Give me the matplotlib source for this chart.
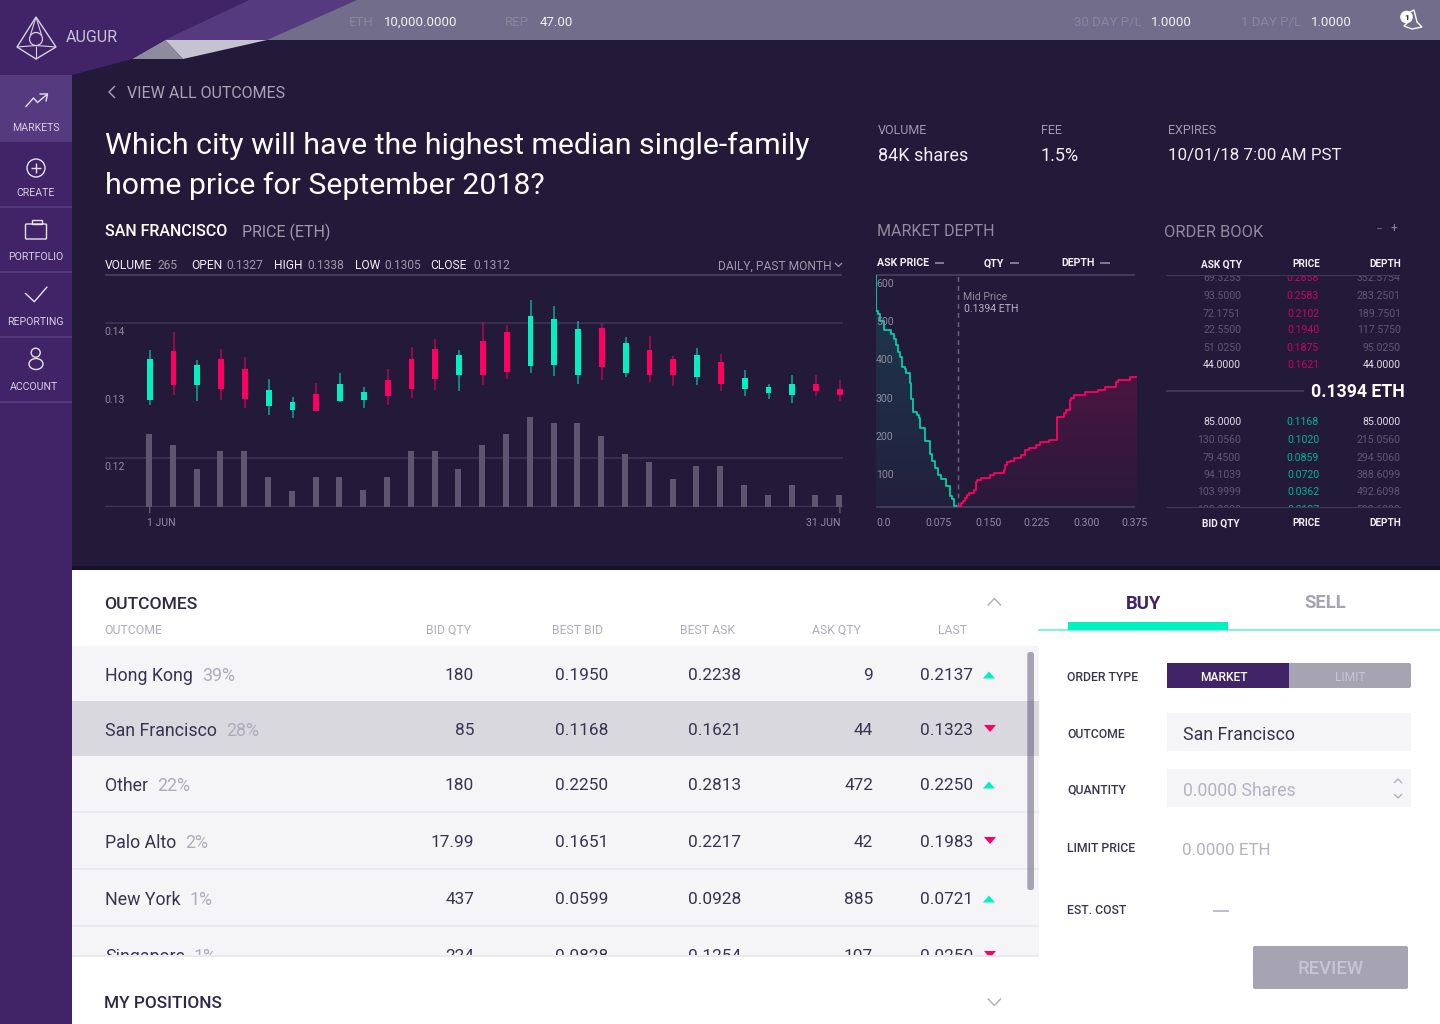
"""Augur market page: candlesticks, market depth, order book and outcomes table."""
import numpy as np
import matplotlib

matplotlib.use("Agg")
import matplotlib.pyplot as plt
from matplotlib.patches import Circle, Ellipse, FancyBboxPatch, Polygon, Rectangle

plt.rcParams["font.family"] = ["Roboto", "DejaVu Sans"]

W, H = 1440, 1024

BG = "#231a3a"
PURPLE = "#412468"
GREEN = "#00f0c2"
RED = "#ff0062"
RULE = "#433a5a"
MUTED = "#8f8c9f"
INK = "#3a3350"

# Candles, one per day of June
PRICE_HIGH = [.13595, .13867, .13457, .13615, .13496, .13170, .12904, .13116, .13264, .13052,
              .13319, .13644, .13763, .13605, .14015, .13975, .14336, .14257, .14030, .14000,
              .13793, .13807, .13516, .13635, .13546, .13309, .13096, .13230, .13230, .13156]
PRICE_LOW = [.12780, .12928, .12840, .12859, .12741, .12632, .12588, .12696, .12835, .12741,
             .12785, .12889, .13007, .12993, .13077, .13170, .13254, .13210, .13101, .13156,
             .13195, .13121, .13062, .13077, .12988, .12914, .12869, .12815, .12914, .12840]
PRICE_OPEN = [.12864, .13580, .13077, .13472, .13323, .12765, .12706, .12948, .12849, .12854,
              .13156, .13472, .13620, .13225, .13728, .13867, .13358, .13373, .13225, .13921,
              .13264, .13605, .13462, .13195, .13422, .13017, .12958, .12928, .13096, .13022]
PRICE_CLOSE = [.13467, .13077, .13383, .13017, .12869, .13007, .12830, .12701, .13096, .12978,
               .12914, .13017, .13165, .13526, .13225, .13269, .14099, .14059, .13911, .13343,
               .13704, .13235, .13235, .13526, .13091, .13190, .13052, .13101, .12998, .12928]
VOLUME = [72.7, 61.7, 37.7, 55.7, 55.7, 29.7, 15.7, 29.7, 29.7, 16.7,
          29.7, 55.7, 55.7, 37.7, 61.7, 72.7, 89.7, 83.7, 83.7, 70.7,
          52.7, 44.7, 27.7, 40.7, 40.7, 21.7, 11.7, 21.7, 11.7, 11.7]
PRICE_TICKS = [0.14, 0.13, 0.12]
PRICE_GRID = [0.14, 0.12]

# Market depth steps
BID_PRICE = [0.0, 0.0, .0034, .0058, .0110, .0211, .0259, .0288, .0317, .0346, .0374, .0413, .0432,
             .0485, .0509, .0533, .0586, .0614, .0634, .0701, .0778, .0806, .0850, .0893, .0931,
             .1013, .1066, .1099, .1118, .1186]
BID_DEPTH = [604, 511, 503, 485, 461, 450, 437, 422, 404, 391, 365, 358, 349,
             322, 281, 246, 239, 230, 205, 170, 137, 118, 100, 83, 73,
             55, 29, 19, 2, 2]
ASK_PRICE = [.1186, .1219, .1248, .1277, .1306, .1334, .1406, .1435, .1459, .1517, .1646, .1704,
             .1838, .1862, .1891, .1930, .1982, .2083, .2141, .2203, .2299, .2357, .2482, .2606,
             .2707, .2726, .2789, .2808, .2851, .3010, .3192, .3288, .3446, .3475, .3658, .3754]
ASK_DEPTH = [2, 9, 16, 22, 30, 36, 43, 65, 70, 76, 82, 87,
             96, 109, 116, 120, 128, 134, 148, 154, 161, 168, 173, 233,
             245, 251, 278, 284, 291, 298, 304, 311, 324, 330, 337, 337]
DEPTH_Y_TICKS = [100, 200, 300, 400, 500, 600]
DEPTH_X_LABELS = ["0.0", "0.075", "0.150", "0.225", "0.300", "0.375"]

# Order book
BOOK_ASK_QTY = ["69.3253", "93.5000", "72.1751", "22.5500", "51.0250", "44.0000"]
BOOK_ASK_PRICE = ["0.2858", "0.2583", "0.2102", "0.1940", "0.1875", "0.1621"]
BOOK_ASK_DEPTH = ["352.5754", "283.2501", "189.7501", "117.5750", "95.0250", "44.0000"]
BOOK_BID_QTY = ["85.0000", "130.0560", "79.4500", "94.1039", "103.9999", "100.0000"]
BOOK_BID_PRICE = ["0.1168", "0.1020", "0.0859", "0.0720", "0.0362", "0.0137"]
BOOK_BID_DEPTH = ["85.0000", "215.0560", "294.5060", "388.6099", "492.6098", "592.6098"]

# Outcomes table
OUTCOME_NAMES = ["Hong Kong", "San Francisco", "Other", "Palo Alto", "New York", "Singapore"]
OUTCOME_PCT = ["39%", "28%", "22%", "2%", "1%", "1%"]
OUTCOME_BID_QTY = ["180", "85", "180", "17.99", "437", "224"]
OUTCOME_BEST_BID = ["0.1950", "0.1168", "0.2250", "0.1651", "0.0599", "0.0828"]
OUTCOME_BEST_ASK = ["0.2238", "0.1621", "0.2813", "0.2217", "0.0928", "0.1254"]
OUTCOME_ASK_QTY = ["9", "44", "472", "42", "885", "107"]
OUTCOME_LAST = ["0.2137", "0.1323", "0.2250", "0.1983", "0.0721", "0.0250"]
OUTCOME_UP = [True, False, True, False, True, False]

NAV_LABELS = ["MARKETS", "CREATE", "PORTFOLIO", "REPORTING", "ACCOUNT"]


def px_axes(fig, left, top, right, bottom):
    """Transparent axes placed by pixel box, y measured from the top of the figure."""
    ax = fig.add_axes([left / W, 1 - bottom / H, (right - left) / W, (bottom - top) / H], zorder=2)
    ax.patch.set_alpha(0)
    for spine in ax.spines.values():
        spine.set_visible(False)
    ax.set_xticks([])
    ax.set_yticks([])
    return ax


def put(ax, x, y, text, px, color, ha="left", weight="normal", zorder=5):
    """Write text with its size given in pixels and y as the vertical centre."""
    return ax.text(x, y - 0.7, text, fontsize=px * 0.72, color=color, ha=ha, va="center_baseline",
                   fontweight=weight, zorder=zorder)


def line(ax, xs, ys, color, lw=1.0, zorder=4, **kw):
    ax.plot(xs, ys, color=color, lw=lw, zorder=zorder, solid_capstyle="butt", **kw)


def rect(ax, x0, y0, x1, y1, color, zorder=1, alpha=None):
    ax.add_patch(Rectangle((x0, y0), x1 - x0, y1 - y0, fc=color, ec="none", zorder=zorder, alpha=alpha))


def rounded(ax, x0, y0, x1, y1, color, radius=2, zorder=1, alpha=None):
    ax.add_patch(FancyBboxPatch((x0 + radius, y0 + radius), x1 - x0 - 2 * radius, y1 - y0 - 2 * radius,
                                boxstyle=f"round,pad={radius}", fc=color, ec="none",
                                zorder=zorder, alpha=alpha))


def draw_chrome(ui):
    """Page backgrounds, header band and sidebar."""
    rect(ui, 0, 0, W, 570, BG, zorder=0)
    rect(ui, 72, 566, W, 570, "#15102a", zorder=1)
    rect(ui, 72, 570, W, H, "white", zorder=0)
    rect(ui, 0, 0, W, 40, "#716d8a", zorder=1)
    rect(ui, 0, 0, 72, H, PURPLE, zorder=1)

    ui.add_patch(Polygon([(165, 40), (267, 40), (183, 59)], fc="#c5c3cf", ec="none", zorder=2))
    ui.add_patch(Polygon([(165, 40), (183, 59), (132, 59)], fc="#8f8b9e", ec="none", zorder=2))
    ui.add_patch(Polygon([(250, 0), (357, 0), (267, 40), (165, 40)], fc="#553a80", ec="none", zorder=2))
    ui.add_patch(Polygon([(0, 0), (250, 0), (165, 40), (132, 59), (72, 75), (0, 75)],
                         fc=PURPLE, ec="none", zorder=2))

    # Logo
    logo = "#d6d2e0"
    ui.add_patch(Polygon([(36, 17), (56, 47), (36, 59), (17, 47)], fc="none", ec=logo, lw=1, zorder=3))
    ui.add_patch(Circle((36, 39), 6.5, fc="none", ec=logo, lw=0.9, zorder=3))
    line(ui, [36, 30.5], [17, 35], logo, 0.8)
    line(ui, [36, 41.5], [17, 35], logo, 0.8)
    line(ui, [17, 36, 56], [47, 45.5, 47], logo, 0.8)
    line(ui, [36, 36], [45.5, 59], logo, 0.8)
    put(ui, 66, 37, "AUGUR", 16, "#c9c5d6")

    # Balance strip
    for x, text, color in [(349, "ETH", "#8a879c"), (384, "10,000.0000", "#f0eff4"),
                           (505, "REP", "#8a879c"), (540, "47.00", "#f0eff4"),
                           (1074, "30 DAY P/L", "#8a879c"), (1151, "1.0000", "#f0eff4"),
                           (1241, "1 DAY P/L", "#8a879c"), (1311, "1.0000", "#f0eff4")]:
        put(ui, x, 21.5, text, 13.3, color)

    # Bell with badge
    ui.add_patch(Polygon([(1404, 26), (1408, 22), (1410, 12), (1414, 10), (1417, 22), (1422, 27), (1412, 29)],
                         fc="none", ec="white", lw=1, zorder=3))
    ui.add_patch(Circle((1406.5, 17), 6.3, fc="white", ec="none", zorder=4))
    put(ui, 1406.5, 17.5, "1", 8.5, "#231a3a", ha="center", weight="bold")

    # Sidebar
    rect(ui, 0, 75, 72, 142, "#553a80", zorder=3)
    for y in [207, 272, 337, 402]:
        rect(ui, 0, y - 1, 72, y + 1, "#53397b", zorder=3)
    nav_color = "#d6d2e0"
    for text, x, y in zip(NAV_LABELS, [36, 36, 35.5, 35.5, 33.5], [127.5, 192, 256.5, 321.5, 386.5]):
        put(ui, x, y + 0.5, text, 10.5, nav_color, ha="center")
    icon = "#e6e3ec"
    line(ui, [25.5, 33.5, 37.5, 47.5], [107, 98, 102.5, 94], icon)
    line(ui, [39.5, 47.5, 46], [94, 94, 101.5], icon)
    ui.add_patch(Circle((36, 168), 9, fc="none", ec=icon, lw=1, zorder=4))
    line(ui, [31, 41], [168, 168], icon)
    line(ui, [36, 36], [163, 173], icon)
    ui.add_patch(FancyBboxPatch((26.5, 225), 19, 13, boxstyle="round,pad=1", fc="none", ec=icon, lw=1, zorder=4))
    ui.add_patch(Rectangle((31.5, 220), 10, 4, fc="none", ec=icon, lw=1, zorder=4))
    line(ui, [25, 34.3, 47.3], [293, 301.7, 286.7], icon)
    ui.add_patch(Circle((35.7, 352.7), 4.5, fc="none", ec=icon, lw=1, zorder=4))
    ui.add_patch(Ellipse((36, 364), 14, 11, fc="none", ec=icon, lw=1, zorder=4))


def draw_market_header(ui):
    """Back link, question, market stats and the small chart headings."""
    line(ui, [115, 109, 115], [86, 92, 98], "#a7a4b5", 1.0)
    put(ui, 127, 93, "VIEW ALL OUTCOMES", 16, "#a7a4b5")
    put(ui, 105, 143.5, "Which city will have the highest median single-family", 30.2, "white")
    put(ui, 105, 183.5, "home price for September 2018?", 30.2, "white")

    put(ui, 105, 231, "SAN FRANCISCO", 16, "white", weight="medium")
    put(ui, 242, 231, "PRICE (ETH)", 16, "#9e9bad")

    for x, text, color in [(105, "VOLUME", "#f0eff4"), (158, "265", "#9e9bad"),
                           (191, "OPEN", "#f0eff4"), (226, "0.1327", "#9e9bad"),
                           (274, "HIGH", "#f0eff4"), (307, "0.1338", "#9e9bad"),
                           (355, "LOW", "#f0eff4"), (384, "0.1305", "#9e9bad"),
                           (430, "CLOSE", "#f0eff4"), (473, "0.1312", "#9e9bad")]:
        put(ui, x, 265, text, 12, color)
    put(ui, 832, 265, "DAILY, PAST MONTH", 12, "#9e9bad", ha="right")
    line(ui, [835, 838.5, 842], [263, 266.5, 263], "#9e9bad", 0.9)
    rect(ui, 105, 274, 842, 275.5, RULE, zorder=3)

    for x, head, value, px in [(878, "VOLUME", "84K shares", 18), (1041, "FEE", "1.5%", 18),
                               (1168, "EXPIRES", "10/01/18 7:00 AM PST", 17)]:
        put(ui, x, 129.5, head, 12.5, "#9e9bad")
        put(ui, x, 154.5, value, px, "#f0eff4")

    put(ui, 877, 231, "MARKET DEPTH", 16, MUTED)
    put(ui, 1164, 232, "ORDER BOOK", 16.5, MUTED)
    put(ui, 1378, 229, "\u2212", 12, "#6d6a80", ha="center")
    put(ui, 1394, 229, "+", 12, "#8f8c9f", ha="center")

    for x, text, dash in [(877, "ASK PRICE", (935, 944)), (984, "QTY", (1010, 1019)),
                          (1061, "DEPTH", (1100, 1110))]:
        put(ui, x, 263, text, 10.5, "#f0eff4", weight="bold")
        line(ui, dash, [263, 263], "#8f8c9f", 1.2)


def draw_candles(fig):
    """Candlesticks over a volume histogram, sharing the day axis."""
    left, right, top, bottom = 105, 843, 275, 507
    days = np.arange(len(PRICE_OPEN))
    px_per_day = 23.8
    first_day_px = 149.7
    px_per_price = 6750

    ax = px_axes(fig, left, top, right, bottom)
    ax.set_xlim((left - first_day_px) / px_per_day, (right - first_day_px) / px_per_day)
    ax.set_ylim(0.14 - (bottom - 323) / px_per_price, 0.14 + (323 - top) / px_per_price)

    vol_ax = px_axes(fig, left, top, right, bottom)
    vol_ax.set_xlim(ax.get_xlim())
    vol_ax.set_ylim(0, bottom - top)
    vol_ax.bar(days - 0.03, VOLUME, width=0.25, color="#5e5670")

    opens, closes = np.array(PRICE_OPEN), np.array(PRICE_CLOSE)
    colors = [GREEN if c >= o else RED for o, c in zip(opens, closes)]
    ax.vlines(days, PRICE_LOW, PRICE_HIGH, colors=colors, lw=1.2, alpha=0.6, zorder=3)
    ax.bar(days, np.abs(closes - opens), bottom=np.minimum(opens, closes), width=0.25, color=colors, zorder=4)

    for value in PRICE_GRID:
        ax.axhline(value, color="#3d3355", lw=1.2, zorder=1)
    ax.axhline(ax.get_ylim()[0], color="#3d3355", lw=2.5, zorder=1)
    for value in PRICE_TICKS:
        ax.annotate(f"{value:.2f}", (0, value), xycoords=ax.get_yaxis_transform(), xytext=(-1, -8),
                    textcoords="offset pixels", fontsize=7.6, color=MUTED, va="center_baseline")

    ax.annotate("1 JUN", (days[0], 0), xycoords=ax.get_xaxis_transform(), xytext=(-3, -15.5),
                textcoords="offset pixels", fontsize=7.6, color=MUTED, va="center_baseline",
                annotation_clip=False)
    ax.annotate("31 JUN", (days[-1], 0), xycoords=ax.get_xaxis_transform(), xytext=(1, -15.5),
                textcoords="offset pixels", fontsize=7.6, color=MUTED, va="center_baseline", ha="right",
                annotation_clip=False)
    for day in (days[0], days[-1]):
        ax.annotate("", (day, 0), xycoords=ax.get_xaxis_transform(), xytext=(day, -6),
                    textcoords=("data", "offset pixels"),
                    arrowprops=dict(arrowstyle="-", color="#6d6a80", lw=0.8, shrinkA=0, shrinkB=0))


def gradient_fill(ax, xs, ys, rgb, alpha_top, alpha_bottom):
    """Fill under a step line with a vertical fade."""
    poly = ax.fill_between(xs, ys, 0, step="post", color="none")
    shade = np.zeros((128, 1, 4))
    shade[..., :3] = rgb
    shade[:, 0, 3] = np.linspace(alpha_top, alpha_bottom, 128)
    image = ax.imshow(shade, extent=[min(xs), max(xs), 0, max(ys)], aspect="auto", origin="upper", zorder=1)
    image.set_clip_path(poly.get_paths()[0], ax.transData)


def draw_depth(fig, ui):
    """Step chart of cumulative bid and ask depth."""
    ax = px_axes(fig, 876, 275, 1136.7, 506.7)
    gradient_fill(ax, BID_PRICE, BID_DEPTH, (0, 0.94, 0.76), 0.15, 0.03)
    gradient_fill(ax, ASK_PRICE, ASK_DEPTH, (1, 0, 0.38), 0.18, 0.03)
    ax.step(BID_PRICE, BID_DEPTH, where="post", color="#00cfa8", lw=1.3, zorder=3)
    ax.step(ASK_PRICE, ASK_DEPTH, where="post", color=RED, lw=1.3, zorder=3)
    ax.set_xlim(0, 0.375)
    ax.set_ylim(0, 604)

    ax.axvline(BID_PRICE[-1], color="#6d6a80", lw=1, ls=(0, (3.5, 3)), zorder=2)
    for value in DEPTH_Y_TICKS:
        ax.annotate(str(value), (0, value), xycoords=ax.get_yaxis_transform(), xytext=(0, -6),
                    textcoords="offset pixels", fontsize=7.6, color=MUTED, va="center_baseline", zorder=4,
                    annotation_clip=False)

    rect(ui, 876, 274, 1135, 275.5, RULE, zorder=3)
    rect(ui, 876, 506, 1135, 507.5, RULE, zorder=3)
    put(ui, 963, 297, "Mid Price", 10.5, MUTED)
    put(ui, 964, 309, "0.1394 ETH", 10.5, "#b5b3c2")
    for x, text in zip([884, 938, 988, 1036.7, 1086, 1135], DEPTH_X_LABELS):
        put(ui, x, 523, text, 10.5, MUTED, ha="center")


def draw_order_book(ui):
    """Order book columns with the mid price between asks and bids."""
    ask_rows = [278, 296, 313.6, 330, 348, 364.5]
    bid_rows = [422, 440, 457.5, 475, 492, 510]
    dim = "#5f5872"
    for i, y in enumerate(ask_rows):
        bright = i == len(ask_rows) - 1
        put(ui, 1241, y, BOOK_ASK_QTY[i], 10.5, "#dedce6" if bright else dim, ha="right", zorder=2)
        put(ui, 1319, y, BOOK_ASK_PRICE[i], 10.5, "#c8055c", ha="right", zorder=2)
        put(ui, 1400.7, y, BOOK_ASK_DEPTH[i], 10.5, "#dedce6" if bright else dim, ha="right", zorder=2)
    for i, y in enumerate(bid_rows):
        bright = i == 0
        put(ui, 1241, y, BOOK_BID_QTY[i], 10.5, "#dedce6" if bright else dim, ha="right", zorder=2)
        put(ui, 1319, y, BOOK_BID_PRICE[i], 10.5, "#00b596", ha="right", zorder=2)
        put(ui, 1400.7, y, BOOK_BID_DEPTH[i], 10.5, "#dedce6" if bright else dim, ha="right", zorder=2)

    # Rows scroll under the column heads
    rect(ui, 1160, 240, 1410, 275, BG, zorder=3)
    rect(ui, 1160, 507, 1410, 532, BG, zorder=3)
    rect(ui, 1166, 274.5, 1400, 275.8, RULE, zorder=4)
    rect(ui, 1167, 506.5, 1401, 507.8, RULE, zorder=4)

    for x, text in [(1242, "ASK QTY"), (1320, "PRICE"), (1401, "DEPTH")]:
        put(ui, x, 264, text, 10, "#f0eff4", ha="right", weight="bold")
    for x, text in [(1240, "BID QTY"), (1320, "PRICE"), (1401, "DEPTH")]:
        put(ui, x, 523, text, 10, "#f0eff4", ha="right", weight="bold")

    line(ui, [1166, 1304], [391, 391], RULE, 1.3)
    put(ui, 1405, 391, "0.1394 ETH", 17.6, "white", ha="right", weight="bold")


def draw_outcomes(fig, ui):
    """Outcomes table, cut off at the bottom by the positions panel."""
    put(ui, 104.5, 603.5, "OUTCOMES", 17.5, "#2f2748", weight="medium")
    line(ui, [987.7, 994.4, 1001], [605.5, 598.5, 605.5], "#aeacbb", 1)
    for x, text, ha in [(104.5, "OUTCOME", "left"), (471, "BID QTY", "right"), (603, "BEST BID", "right"),
                        (735, "BEST ASK", "right"), (861, "ASK QTY", "right"), (967, "LAST", "right")]:
        put(ui, x, 629.5, text, 12.2, "#aeacbb", ha=ha)

    edges = [646, 701, 756, 812, 869, 926, 956]
    renderer = fig.canvas.get_renderer()
    for i, name in enumerate(OUTCOME_NAMES):
        top, bottom = edges[i], edges[i + 1]
        rect(ui, 72, top, 1039, bottom, "#d9d8df" if i == 1 else "#f5f5f8", zorder=1)
        if i >= 3:
            rect(ui, 72, top - 0.7, 1039, top + 0.7, "#e9e9ee", zorder=2)
        y = [675, 730, 785, 842, 899, 956][i]
        name_text = put(ui, 105, y, name, 17.7, INK, zorder=3)
        end = name_text.get_window_extent(renderer).x1
        put(ui, end + 9, y, OUTCOME_PCT[i], 17.7, "#aeacbb", zorder=3)
        for x, value in [(474, OUTCOME_BID_QTY[i]), (608, OUTCOME_BEST_BID[i]), (741, OUTCOME_BEST_ASK[i]),
                         (873, OUTCOME_ASK_QTY[i]), (973, OUTCOME_LAST[i])]:
            put(ui, x, y, value, 17.2, INK, ha="right", zorder=3)
        if OUTCOME_UP[i]:
            ui.add_patch(Polygon([(983, y + 3.5), (995, y + 3.5), (989, y - 3.5)], fc=GREEN, ec="none", zorder=3))
        else:
            ui.add_patch(Polygon([(984, y - 5), (996, y - 5), (990, y + 2)], fc=RED, ec="none", zorder=3))

    rounded(ui, 1027.3, 652, 1034, 890, "#3c325a", radius=2.5, zorder=4, alpha=0.42)

    rect(ui, 72, 956, 1039, H, "white", zorder=5)
    rect(ui, 72, 955, 1039, 956.5, "#e9e9ee", zorder=6)
    put(ui, 104.5, 1002.5, "MY POSITIONS", 17.3, "#2f2748", weight="medium", zorder=7)
    line(ui, [987.7, 994.4, 1001], [998.5, 1005.5, 998.5], "#aeacbb", 1, zorder=7)


def draw_trade_form(ui):
    """Buy and sell form on the right."""
    put(ui, 1143.5, 602.5, "BUY", 18.5, PURPLE, ha="center", weight="bold")
    put(ui, 1325, 601.5, "SELL", 18.5, "#a6a3b2", ha="center", weight="bold")
    rect(ui, 1038, 629, W, 630.8, "#7ff5dc", zorder=2)
    rect(ui, 1068, 622, 1228, 630, GREEN, zorder=3)

    for y, text in [(676, "ORDER TYPE"), (733, "OUTCOME"), (788.7, "QUANTITY"),
                    (847.7, "LIMIT PRICE"), (908.7, "EST. COST")]:
        put(ui, 1067, y + 0.5, text, 12.3, INK, weight="medium")

    rounded(ui, 1167, 663, 1411, 688, "#a6a3b2", radius=2, zorder=1)
    rect(ui, 1167, 663, 1289, 688, PURPLE, zorder=2)
    put(ui, 1223.5, 677, "MARKET", 12, "white", ha="center", weight="medium")
    put(ui, 1350, 676.5, "LIMIT", 12, "#c8c6d2", ha="center")

    rect(ui, 1167, 713, 1411, 751, "#f5f5f8", zorder=1)
    put(ui, 1183, 734, "San Francisco", 17.8, INK)
    rect(ui, 1167, 769, 1411, 807, "#f5f5f8", zorder=1)
    put(ui, 1183, 789.5, "0.0000 Shares", 17.6, "#b4b2c0")
    line(ui, [1394, 1398, 1402], [783, 779, 783], "#aeacbb", 0.9)
    line(ui, [1394, 1398, 1402], [794, 798, 794], "#aeacbb", 0.9)
    put(ui, 1182, 849.5, "0.0000 ETH", 17, "#b4b2c0")
    line(ui, [1213, 1229], [910.5, 910.5], "#b4b2c0", 1.2)

    rounded(ui, 1253, 946, 1408, 989, "#a6a3b2", radius=2, zorder=1)
    put(ui, 1331, 968, "REVIEW", 18.5, "#c8c6d2", ha="center", weight="medium")


def main() -> None:
    fig = plt.figure(figsize=(W / 100, H / 100), dpi=100, facecolor="white")
    ui = fig.add_axes([0, 0, 1, 1], zorder=1)
    ui.set_xlim(0, W)
    ui.set_ylim(H, 0)
    ui.axis("off")

    draw_chrome(ui)
    draw_market_header(ui)
    draw_candles(fig)
    draw_depth(fig, ui)
    draw_order_book(ui)
    draw_outcomes(fig, ui)
    draw_trade_form(ui)

    fig.savefig("out.png", dpi=100)
    plt.close(fig)


if __name__ == "__main__":
    main()
